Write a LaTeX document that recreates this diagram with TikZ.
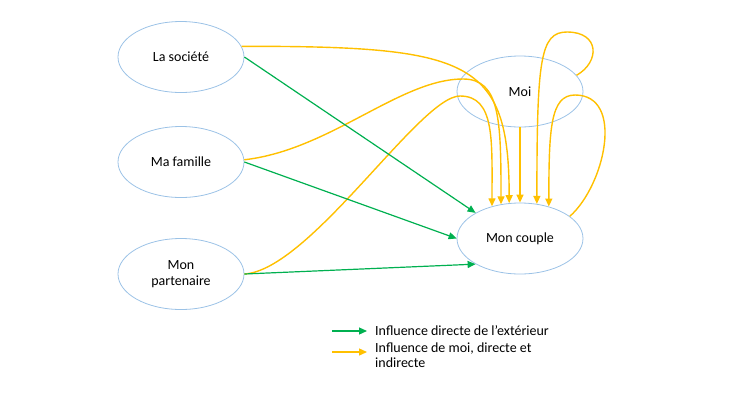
\documentclass[tikz,border=0pt]{standalone}
\usepackage{fontspec}
\setmainfont{Carlito}
\usetikzlibrary{shapes.geometric,arrows.meta}
\definecolor{ell}{RGB}{155,194,230}
\definecolor{yel}{RGB}{255,192,0}
\definecolor{grn}{RGB}{0,176,80}
\begin{document}
\begin{tikzpicture}[x=1pt,y=-1pt,
  ov/.style={ellipse,draw=ell,line width=0.8pt,minimum width=126pt,minimum height=71pt,
    inner sep=0pt,align=center,font=\fontsize{14}{16.5}\selectfont},
  ga/.style={draw=grn,line width=1.2pt,-{Triangle[length=8pt,width=7pt]}},
  ya/.style={draw=yel,line width=1.4pt,-{Triangle[length=8pt,width=7pt]}},
  lgt/.style={inner sep=0pt,align=left,font=\fontsize{14}{15}\selectfont}]
\useasboundingbox (0,0) rectangle (740,416);
% nodes
\node[ov] (soc) at (181,57) {La société};
\node[ov] (fam) at (181,162) {Ma famille};
\node[ov] (par) at (181,274) {Mon\\partenaire};
\node[ov] (moi) at (520,91.5) {Moi};
\node[ov] (couple) at (520,238.5) {Mon couple};
% yellow connectors
\draw[ya] (soc.10) .. controls (470,46) and (509,60) .. (couple.107);
\draw[ya] (fam.2) .. controls (330,150) and (400,79) .. (463,79)
  .. controls (500,79) and (501,120) .. (couple.119);
\draw[ya] (par.east) .. controls (310,270) and (420,96) .. (460,96)
  .. controls (495,96) and (492,140) .. (couple.131);
\draw[ya] (moi.south) -- (couple.north);
\draw[ya] (moi.16) .. controls (600,62) and (600,32) .. (567,32)
  .. controls (540,32) and (537,60) .. (couple.64);
\draw[ya] (couple.24) .. controls (605,185) and (625,95) .. (575,95)
  .. controls (550,95) and (549,130) .. (couple.48);
% green connectors
\draw[ga] (soc.east) -- (couple.150);
\draw[ga] (fam.east) -- (couple.west);
\draw[ga] (par.east) -- (couple.210);
% legend
\coordinate (g1) at (332,331);
\coordinate (g2) at (367,331);
\draw[ga] (g1) -- (g2);
\node[lgt,anchor=west] (lg) at (375,331) {Influence directe de l’extérieur};
\coordinate (y1) at (332,352);
\coordinate (y2) at (367,352);
\draw[ya] (y1) -- (y2);
\node[lgt,anchor=north west] (ly) at (375,343) {Influence de moi, directe et\\indirecte};
\end{tikzpicture}
\end{document}
